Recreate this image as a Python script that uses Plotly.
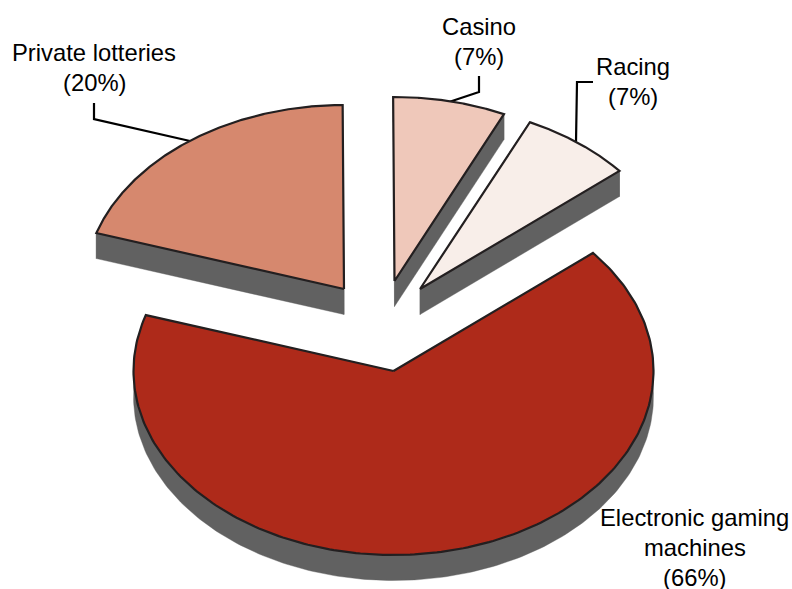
import numpy as np
import plotly.graph_objects as go

# Shares of each category, clockwise from the first slice's edge
categories = ["Casino", "Racing", "Electronic gaming machines", "Private lotteries"]
shares = [7, 7, 66, 20]

# Label text, one entry per line
label_lines = [["Casino", "(7%)"], ["Racing", "(7%)"],
               ["Electronic gaming", "machines", "(66%)"],
               ["Private lotteries", "(20%)"]]

# Pie geometry in page pixels
RX, RY, DEPTH = 260, 184, 25.5
START_ANGLE = 90.3
apexes = [(394.5, 281), (420, 289), (393.5, 371), (344, 289)]
face_colors = ["#EFC8BA", "#F8EEE9", "#AE2A1A", "#D6886E"]
WALL = "#616161"
EDGE = "#231F20"
FONT = "Liberation Sans"
FONT_SIZE = 23.8

label_anchor = [(478.5, 14), (633, 54), (694.5, 505), (94, 40)]
leaders = [[(479, 76), (479, 92), (449, 102)],
           [(593, 82), (577, 82), (576, 142)],
           [],
           [(94, 103), (94, 119), (190, 141)]]


def arc(apex, start, sweep):
    """Rim of a flattened pie slice running clockwise from `start` degrees."""
    t = np.radians(np.linspace(start, start - sweep, 240))
    return apex[0] + RX * np.cos(t), apex[1] - RY * np.sin(t)


def wall(xs, ys):
    """Fill the strip hanging below a path of top-edge points."""
    fig.add_trace(go.Scatter(x=np.r_[xs, xs[::-1], xs[0]],
                             y=np.r_[ys, ys[::-1] + DEPTH, ys[0]],
                             mode="lines", fill="toself", fillcolor=WALL,
                             line=dict(color=WALL, width=0.4), hoverinfo="skip"))


fig = go.Figure()
rims = []
angle = START_ANGLE
for share, apex in zip(shares, apexes):
    sweep = 360 * share / sum(shares)
    rims.append((apex, *arc(apex, angle, sweep)))
    angle -= sweep

# Side walls go first so the slice faces cover them
for apex, xs, ys in rims:
    wall(xs, ys)
    wall(np.array([apex[0], xs[0]]), np.array([apex[1], ys[0]]))
    wall(np.array([apex[0], xs[-1]]), np.array([apex[1], ys[-1]]))

# Leader lines run under the faces
for path in leaders:
    if path:
        fig.add_trace(go.Scatter(x=[p[0] for p in path], y=[p[1] for p in path],
                                 mode="lines", line=dict(color="#000000", width=2.2),
                                 hoverinfo="skip"))

for (apex, xs, ys), color, name in zip(rims, face_colors, categories):
    fig.add_trace(go.Scatter(x=np.r_[apex[0], xs, apex[0]],
                             y=np.r_[apex[1], ys, apex[1]],
                             mode="lines", fill="toself", name=name,
                             fillcolor=color,
                             line=dict(color=EDGE, width=2.2)))

for lines, (cx, cy) in zip(label_lines, label_anchor):
    for k, line in enumerate(lines):
        fig.add_annotation(x=cx, y=cy + k * 30 + 12, text=line, showarrow=False,
                           font=dict(family=FONT, size=FONT_SIZE, color="#000000"),
                           xanchor="center", yanchor="middle")

fig.update_layout(
    width=792, height=589, margin=dict(l=0, r=0, t=0, b=0),
    paper_bgcolor="white", plot_bgcolor="white", showlegend=False,
    xaxis=dict(range=[0, 792], visible=False),
    yaxis=dict(range=[589, 0], visible=False),
)
fig.write_html("out.html", config={"displayModeBar": False})
